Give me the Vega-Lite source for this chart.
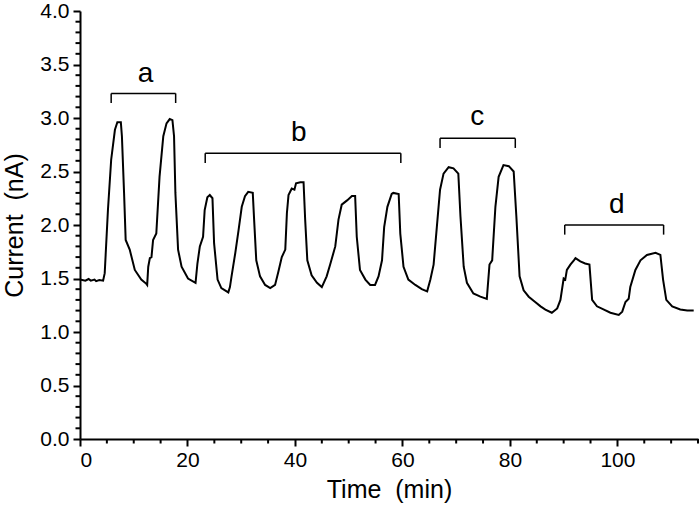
{
  "$schema": "https://vega.github.io/schema/vega-lite/v6.json",
  "width": 618,
  "height": 428,
  "autosize": {"type": "none"},
  "padding": {"left": 80, "top": 11, "right": 2, "bottom": 67},
  "background": "white",
  "config": {
    "view": {"stroke": null},
    "font": "Liberation Sans",
    "axis": {"grid": false, "domainColor": "black", "domainWidth": 2, "tickColor": "black", "labelColor": "black", "titleColor": "black", "labelFont": "Liberation Sans", "titleFont": "Liberation Sans", "titleFontWeight": "normal"}
  },
  "datasets": {
    "trace": [
      {"t": 0, "i": 1.49}, {"t": 1, "i": 1.48}, {"t": 1.6, "i": 1.495}, {"t": 2, "i": 1.48}, {"t": 2.7, "i": 1.49}, {"t": 3, "i": 1.475}, {"t": 3.6, "i": 1.485}, {"t": 4.3, "i": 1.48},
      {"t": 4.6, "i": 1.55}, {"t": 5.2, "i": 2.14}, {"t": 5.8, "i": 2.61}, {"t": 6.5, "i": 2.89}, {"t": 6.95, "i": 2.96}, {"t": 7.6, "i": 2.96}, {"t": 7.8, "i": 2.83}, {"t": 8.2, "i": 2.3}, {"t": 8.5, "i": 1.86}, {"t": 9.25, "i": 1.77}, {"t": 10.2, "i": 1.58}, {"t": 11.4, "i": 1.49}, {"t": 12.35, "i": 1.45}, {"t": 12.5, "i": 1.44},
      {"t": 12.7, "i": 1.61}, {"t": 13.0, "i": 1.69}, {"t": 13.3, "i": 1.7}, {"t": 13.6, "i": 1.86}, {"t": 14.2, "i": 1.92}, {"t": 14.8, "i": 2.45}, {"t": 15.5, "i": 2.83}, {"t": 16.1, "i": 2.95}, {"t": 16.7, "i": 2.99}, {"t": 17.2, "i": 2.98}, {"t": 17.5, "i": 2.83}, {"t": 17.75, "i": 2.3}, {"t": 18.25, "i": 1.77}, {"t": 18.9, "i": 1.61}, {"t": 20.1, "i": 1.5}, {"t": 21.5, "i": 1.46},
      {"t": 21.85, "i": 1.64}, {"t": 22.3, "i": 1.8}, {"t": 22.9, "i": 1.89}, {"t": 23.2, "i": 2.14}, {"t": 23.7, "i": 2.26}, {"t": 24.15, "i": 2.28}, {"t": 24.65, "i": 2.25}, {"t": 24.95, "i": 1.83}, {"t": 25.6, "i": 1.49}, {"t": 26.3, "i": 1.41}, {"t": 27.6, "i": 1.37},
      {"t": 27.9, "i": 1.42}, {"t": 28.2, "i": 1.52}, {"t": 28.9, "i": 1.74}, {"t": 29.5, "i": 1.95}, {"t": 30.1, "i": 2.17}, {"t": 30.7, "i": 2.27}, {"t": 31.3, "i": 2.31}, {"t": 32.15, "i": 2.3}, {"t": 32.4, "i": 2.05}, {"t": 32.8, "i": 1.67}, {"t": 33.5, "i": 1.52}, {"t": 34.45, "i": 1.44}, {"t": 35.4, "i": 1.41}, {"t": 36.3, "i": 1.44},
      {"t": 36.9, "i": 1.56}, {"t": 37.55, "i": 1.7}, {"t": 38.2, "i": 1.77}, {"t": 38.5, "i": 2.11}, {"t": 38.8, "i": 2.28}, {"t": 39.4, "i": 2.34}, {"t": 39.9, "i": 2.33}, {"t": 40.2, "i": 2.39}, {"t": 41.0, "i": 2.4}, {"t": 41.6, "i": 2.4}, {"t": 41.9, "i": 2.05}, {"t": 42.3, "i": 1.67}, {"t": 43.1, "i": 1.53}, {"t": 44.1, "i": 1.46}, {"t": 45.0, "i": 1.42},
      {"t": 45.9, "i": 1.52}, {"t": 46.55, "i": 1.63}, {"t": 47.5, "i": 1.8}, {"t": 48.1, "i": 2.05}, {"t": 48.7, "i": 2.19}, {"t": 49.7, "i": 2.23}, {"t": 50.6, "i": 2.27}, {"t": 51.2, "i": 2.27}, {"t": 51.5, "i": 1.89}, {"t": 52.1, "i": 1.58}, {"t": 53.1, "i": 1.49}, {"t": 54.0, "i": 1.44}, {"t": 54.9, "i": 1.44},
      {"t": 55.55, "i": 1.52}, {"t": 56.2, "i": 1.67}, {"t": 56.6, "i": 1.98}, {"t": 57.2, "i": 2.17}, {"t": 58.0, "i": 2.29}, {"t": 58.3, "i": 2.3}, {"t": 59.3, "i": 2.29}, {"t": 59.6, "i": 1.92}, {"t": 60.2, "i": 1.61}, {"t": 61.1, "i": 1.49}, {"t": 62.4, "i": 1.44}, {"t": 63.6, "i": 1.4}, {"t": 64.6, "i": 1.38},
      {"t": 65.2, "i": 1.49}, {"t": 65.8, "i": 1.63}, {"t": 66.4, "i": 1.98}, {"t": 67.0, "i": 2.33}, {"t": 67.65, "i": 2.48}, {"t": 68.6, "i": 2.54}, {"t": 69.5, "i": 2.53}, {"t": 70.4, "i": 2.48}, {"t": 70.8, "i": 2.08}, {"t": 71.4, "i": 1.61}, {"t": 72.0, "i": 1.46}, {"t": 73.2, "i": 1.36}, {"t": 74.5, "i": 1.33}, {"t": 75.7, "i": 1.31},
      {"t": 76.2, "i": 1.63}, {"t": 76.7, "i": 1.67}, {"t": 77.3, "i": 2.17}, {"t": 77.9, "i": 2.45}, {"t": 78.8, "i": 2.56}, {"t": 79.8, "i": 2.55}, {"t": 80.7, "i": 2.5}, {"t": 81.2, "i": 2.08}, {"t": 81.8, "i": 1.52}, {"t": 82.55, "i": 1.39}, {"t": 83.5, "i": 1.33}, {"t": 84.7, "i": 1.28}, {"t": 85.7, "i": 1.24}, {"t": 86.6, "i": 1.21}, {"t": 87.8, "i": 1.18}, {"t": 88.8, "i": 1.22},
      {"t": 89.4, "i": 1.3}, {"t": 90.0, "i": 1.5}, {"t": 90.3, "i": 1.49}, {"t": 90.6, "i": 1.58}, {"t": 91.25, "i": 1.63}, {"t": 91.9, "i": 1.67}, {"t": 92.2, "i": 1.69}, {"t": 93.1, "i": 1.66}, {"t": 94.0, "i": 1.64}, {"t": 94.8, "i": 1.63}, {"t": 95.3, "i": 1.3}, {"t": 96.2, "i": 1.24}, {"t": 97.5, "i": 1.21}, {"t": 98.7, "i": 1.18}, {"t": 100.25, "i": 1.16},
      {"t": 100.9, "i": 1.19}, {"t": 101.5, "i": 1.28}, {"t": 102.1, "i": 1.31}, {"t": 102.4, "i": 1.42}, {"t": 103.35, "i": 1.58}, {"t": 104.3, "i": 1.67}, {"t": 105.5, "i": 1.72}, {"t": 107.1, "i": 1.74}, {"t": 108.0, "i": 1.72}, {"t": 108.5, "i": 1.49}, {"t": 109.1, "i": 1.3}, {"t": 110.2, "i": 1.24}, {"t": 111.7, "i": 1.21}, {"t": 113.0, "i": 1.2}, {"t": 114.2, "i": 1.2}
    ],
    "brackets": [
      {"label": "a", "x1": 5.8, "x2": 17.8, "top": 3.23, "bottom": 3.14, "lx": 12.2, "ly": 3.41},
      {"label": "b", "x1": 23.3, "x2": 59.7, "top": 2.67, "bottom": 2.58, "lx": 40.7, "ly": 2.86},
      {"label": "c", "x1": 67.0, "x2": 81.0, "top": 2.81, "bottom": 2.72, "lx": 73.9, "ly": 3.01},
      {"label": "d", "x1": 90.2, "x2": 108.6, "top": 2.0, "bottom": 1.91, "lx": 99.9, "ly": 2.19}
    ],
    "minorX": [
      {"v": 5}, {"v": 10}, {"v": 15}, {"v": 25}, {"v": 30}, {"v": 35}, {"v": 45}, {"v": 50}, {"v": 55}, {"v": 65}, {"v": 70}, {"v": 75}, {"v": 85}, {"v": 90}, {"v": 95}, {"v": 105}, {"v": 110}, {"v": 115}
    ],
    "minorY": [
      {"v": 0.1}, {"v": 0.2}, {"v": 0.3}, {"v": 0.4}, {"v": 0.6}, {"v": 0.7}, {"v": 0.8}, {"v": 0.9},
      {"v": 1.1}, {"v": 1.2}, {"v": 1.3}, {"v": 1.4}, {"v": 1.6}, {"v": 1.7}, {"v": 1.8}, {"v": 1.9},
      {"v": 2.1}, {"v": 2.2}, {"v": 2.3}, {"v": 2.4}, {"v": 2.6}, {"v": 2.7}, {"v": 2.8}, {"v": 2.9},
      {"v": 3.1}, {"v": 3.2}, {"v": 3.3}, {"v": 3.4}, {"v": 3.6}, {"v": 3.7}, {"v": 3.8}, {"v": 3.9}
    ]
  },
  "layer": [
    {
      "data": {"name": "trace"},
      "mark": {"type": "line", "color": "black", "strokeWidth": 2, "interpolate": "linear"},
      "encoding": {
        "x": {"field": "t", "type": "quantitative", "scale": {"domain": [0, 115], "nice": false, "zero": false},
          "axis": {"orient": "bottom", "values": [0, 20, 40, 60, 80, 100], "tickSize": 7, "tickWidth": 2, "labelFontSize": 21, "labelPadding": 3, "title": "Time\u00a0 (min)", "titleFontSize": 25, "titlePadding": 7}},
        "y": {"field": "i", "type": "quantitative", "scale": {"domain": [0, 4], "nice": false, "zero": false},
          "axis": {"orient": "left", "values": [0, 0.5, 1, 1.5, 2, 2.5, 3, 3.5, 4], "format": ".1f", "tickSize": 7, "tickWidth": 2, "labelFontSize": 21, "labelPadding": 4, "title": "Current\u00a0 (nA)", "titleFontSize": 25, "titlePadding": 12}}
      }
    },
    {
      "data": {"name": "minorX"},
      "mark": {"type": "rule", "color": "black", "strokeWidth": 2, "y2Offset": 4.5},
      "encoding": {
        "x": {"field": "v", "type": "quantitative"},
        "y": {"datum": 0, "type": "quantitative"},
        "y2": {"datum": 0}
      }
    },
    {
      "data": {"name": "minorY"},
      "mark": {"type": "rule", "color": "black", "strokeWidth": 2, "x2Offset": -4.5},
      "encoding": {
        "y": {"field": "v", "type": "quantitative"},
        "x": {"datum": 0, "type": "quantitative"},
        "x2": {"datum": 0}
      }
    },
    {
      "data": {"name": "brackets"},
      "mark": {"type": "rule", "color": "black", "strokeWidth": 1.5},
      "encoding": {
        "x": {"field": "x1", "type": "quantitative"},
        "x2": {"field": "x2"},
        "y": {"field": "top", "type": "quantitative"}
      }
    },
    {
      "data": {"name": "brackets"},
      "mark": {"type": "rule", "color": "black", "strokeWidth": 1.5},
      "encoding": {
        "x": {"field": "x1", "type": "quantitative"},
        "y": {"field": "top", "type": "quantitative"},
        "y2": {"field": "bottom"}
      }
    },
    {
      "data": {"name": "brackets"},
      "mark": {"type": "rule", "color": "black", "strokeWidth": 1.5},
      "encoding": {
        "x": {"field": "x2", "type": "quantitative"},
        "y": {"field": "top", "type": "quantitative"},
        "y2": {"field": "bottom"}
      }
    },
    {
      "data": {"name": "brackets"},
      "mark": {"type": "text", "color": "black", "fontSize": 28, "font": "Liberation Sans", "baseline": "middle", "align": "center"},
      "encoding": {
        "x": {"field": "lx", "type": "quantitative"},
        "y": {"field": "ly", "type": "quantitative"},
        "text": {"field": "label"}
      }
    }
  ]
}
